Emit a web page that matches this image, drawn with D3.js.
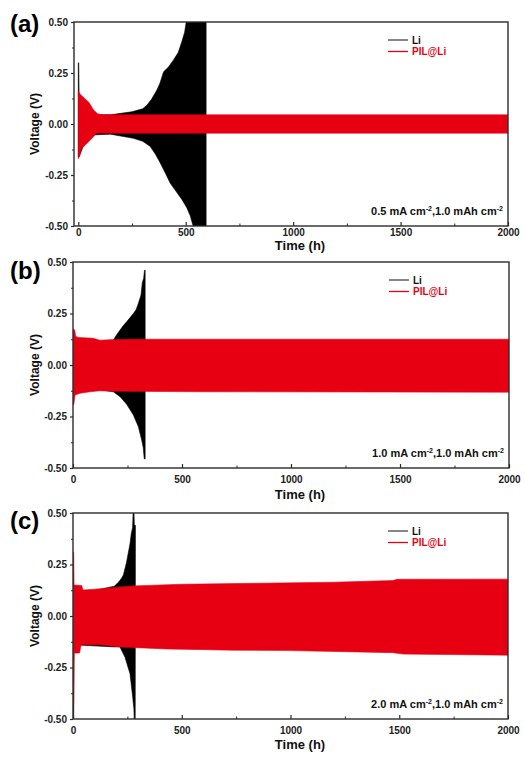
<!DOCTYPE html>
<html><head><meta charset="utf-8">
<script src="https://cdn.jsdelivr.net/npm/d3@7"></script>
<style>
body{margin:0;background:#fff}
text{font-family:"Liberation Sans",Arial,Helvetica,sans-serif;font-weight:bold}
</style>
</head><body>
<svg id="chart" width="525" height="758"></svg>
<script>
// ---------------- data ----------------
const panelLabels = ["(a)", "(b)", "(c)"];
const seriesNames = ["Li", "PIL@Li"];
const currentDensities = ["0.5", "1.0", "2.0"];   // mA cm-2
const arealCapacity = "1.0";                        // mAh cm-2
const yTicks = [-0.5, -0.25, 0, 0.25, 0.5];
const yTickLabels = ["-0.50", "-0.25", "0.00", "0.25", "0.50"];
const yMinorTicks = [-0.375, -0.125, 0.125, 0.375];
const xTicks = [0, 500, 1000, 1500, 2000];
const xMinorTicks = [250, 750, 1250, 1750];
const xDomains = [[-20, 2000], [0, 2000], [0, 2000]];

// voltage envelopes: [time (h), voltage (V)]
const liUpperA = [[0,0.30],[2,0.30],[4,0.13],[30,0.08],[80,0.045],[150,0.045],[250,0.06],[300,0.075],[320,0.093],[340,0.12],[366,0.167],[380,0.20],[397,0.256],[420,0.28],[443,0.314],[465,0.35],[482,0.404],[495,0.45],[505,0.52],[595,0.52]];
const liLowerA = [[0,-0.16],[4,-0.16],[30,-0.09],[56,-0.054],[150,-0.05],[256,-0.07],[300,-0.085],[335,-0.11],[360,-0.15],[381,-0.19],[405,-0.24],[428,-0.29],[455,-0.33],[482,-0.37],[505,-0.41],[521,-0.45],[540,-0.52],[595,-0.52]];
const pilUpperA = [[0,0.16],[10,0.145],[30,0.125],[50,0.105],[70,0.07],[90,0.05],[110,0.045],[2000,0.045]];
const pilLowerA = [[0,-0.17],[5,-0.16],[15,-0.12],[35,-0.10],[55,-0.08],[85,-0.045],[2000,-0.045]];

const liUpperB = [[0,0.10],[183,0.118],[200,0.146],[216,0.17],[230,0.19],[246,0.21],[262,0.23],[277,0.25],[290,0.27],[300,0.30],[312,0.34],[318,0.40],[324,0.42],[328,0.46],[331,0.46]];
const liLowerB = [[0,-0.10],[185,-0.13],[216,-0.154],[246,-0.19],[277,-0.243],[300,-0.30],[315,-0.364],[322,-0.40],[327,-0.456],[331,-0.456]];
const pilUpperB = [[0,0.175],[8,0.17],[12,0.14],[23,0.134],[92,0.13],[124,0.12],[170,0.123],[300,0.125],[2000,0.125]];
const pilLowerB = [[0,-0.194],[4,-0.19],[9,-0.146],[32,-0.137],[78,-0.13],[124,-0.125],[170,-0.127],[600,-0.13],[2000,-0.132]];

const liUpperC = [[0,0.10],[190,0.145],[210,0.165],[224,0.185],[232,0.20],[239,0.23],[246,0.26],[253,0.30],[262,0.35],[268,0.40],[274,0.43],[277,0.52],[280,0.52],[282,0.44],[287,0.44]];
const liLowerC = [[0,-0.52],[3,-0.52],[5,-0.14],[190,-0.15],[216,-0.15],[239,-0.20],[262,-0.28],[274,-0.39],[280,-0.45],[282,-0.52],[286,-0.52]];
const pilUpperC = [[0,0.31],[3,0.31],[5,0.15],[40,0.148],[46,0.126],[100,0.13],[276,0.146],[500,0.154],[860,0.159],[1200,0.164],[1471,0.172],[1490,0.178],[2000,0.179]];
const pilLowerC = [[0,-0.43],[3,-0.43],[5,-0.18],[30,-0.18],[37,-0.14],[124,-0.14],[216,-0.15],[430,-0.16],[736,-0.166],[1000,-0.168],[1200,-0.172],[1470,-0.178],[1520,-0.185],[2000,-0.19]];

const envelopes = [
  {li:[liUpperA, liLowerA], pil:[pilUpperA, pilLowerA]},
  {li:[liUpperB, liLowerB], pil:[pilUpperB, pilLowerB]},
  {li:[liUpperC, liLowerC], pil:[pilUpperC, pilLowerC]}
];

// ---------------- layout ----------------
const boxes = [
  {l:74, t:22, r:508, b:226, lab:32, xl:10, xt:24},
  {l:73, t:262, r:509, b:468, lab:279, xl:15, xt:31},
  {l:73, t:513, r:508, b:719, lab:529, xl:15, xt:30}
];
const RED = "#e60012", BLACK = "#000", AXIS = "#2b2b2b";

const svg = d3.select("#chart");

boxes.forEach((bx, i) => {
  const x = d3.scaleLinear().domain(xDomains[i]).range([bx.l, bx.r]);
  const y = d3.scaleLinear().domain([-0.5, 0.5]).range([bx.b, bx.t]);
  const g = svg.append("g");

  const clipId = "clip" + i;
  svg.append("clipPath").attr("id", clipId).append("rect")
    .attr("x", bx.l).attr("y", bx.t).attr("width", bx.r - bx.l).attr("height", bx.b - bx.t);

  const line = d3.line().x(d => x(d[0])).y(d => y(d[1]));
  const band = (up, lo) => line(up.concat(lo.slice().reverse())) + "Z";

  const plot = g.append("g").attr("clip-path", `url(#${clipId})`);
  plot.append("path").attr("d", band(envelopes[i].li[0], envelopes[i].li[1]))
    .attr("fill", BLACK).attr("stroke", BLACK).attr("stroke-width", 0.6);
  plot.append("path").attr("d", band(envelopes[i].pil[0], envelopes[i].pil[1]))
    .attr("fill", RED).attr("stroke", RED).attr("stroke-width", 0.6);

  // left axis (ticks outward)
  const yAxis = d3.axisLeft(y).tickValues(yTicks).tickSize(3).tickPadding(3)
    .tickFormat((d, k) => yTickLabels[k]);
  const ya = g.append("g").attr("transform", `translate(${bx.l},0)`).call(yAxis);
  ya.select(".domain").remove();
  ya.selectAll("line").attr("stroke", AXIS).attr("stroke-width", 1.2);
  ya.selectAll("text").attr("font-size", 10).attr("fill", "#222")
    .style("font-family", '"Liberation Sans",Arial,sans-serif').style("font-weight", "bold");
  const yMin = d3.axisLeft(y).tickValues(yMinorTicks).tickSize(2).tickFormat("");
  const ym = g.append("g").attr("transform", `translate(${bx.l},0)`).call(yMin);
  ym.select(".domain").remove();
  ym.selectAll("line").attr("stroke", AXIS).attr("stroke-width", 1);

  // bottom axis (ticks inward)
  const xAxis = d3.axisBottom(x).tickValues(xTicks).tickSize(-4).tickPadding(0).tickFormat(d3.format("d"));
  const xa = g.append("g").attr("transform", `translate(0,${bx.b})`).call(xAxis);
  xa.select(".domain").remove();
  xa.selectAll("line").attr("stroke", AXIS).attr("stroke-width", 1.2);
  xa.selectAll("text").attr("font-size", 10).attr("fill", "#222").attr("dy", null)
    .attr("y", bx.xl).style("dominant-baseline", "auto")
    .style("font-family", '"Liberation Sans",Arial,sans-serif').style("font-weight", "bold");
  const xMin = d3.axisBottom(x).tickValues(xMinorTicks).tickSize(-2.5).tickFormat("");
  const xm = g.append("g").attr("transform", `translate(0,${bx.b})`).call(xMin);
  xm.select(".domain").remove();
  xm.selectAll("line").attr("stroke", AXIS).attr("stroke-width", 1);

  // frame
  g.append("rect").attr("x", bx.l).attr("y", bx.t).attr("width", bx.r - bx.l).attr("height", bx.b - bx.t)
    .attr("fill", "none").attr("stroke", AXIS).attr("stroke-width", 1.4);

  // axis titles
  g.append("text").attr("x", 300).attr("y", bx.b + bx.xt).attr("text-anchor", "middle")
    .attr("font-size", 13).attr("fill", "#111").text("Time (h)");
  g.append("text").attr("transform", `translate(39,${(bx.t + bx.b) / 2}) rotate(-90)`)
    .attr("text-anchor", "middle").attr("font-size", 12).attr("fill", "#111").text("Voltage (V)");

  // panel label
  g.append("text").attr("x", 10).attr("y", bx.lab).attr("font-size", 24).attr("fill", "#000").text(panelLabels[i]);

  // legend
  const lx = bx.r - 120;
  [[seriesNames[0], BLACK, "#111"], [seriesNames[1], RED, RED]].forEach((s, k) => {
    const ly = bx.t + 18 + k * 11.5;
    g.append("line").attr("x1", lx).attr("x2", lx + 20).attr("y1", ly).attr("y2", ly)
      .attr("stroke", s[1] === BLACK ? "#444" : RED).attr("stroke-width", 1.3);
    g.append("text").attr("x", lx + 24).attr("y", ly + 3.5).attr("font-size", 10).attr("fill", s[2]).text(s[0]);
  });

  // condition annotation
  const ann = g.append("text").attr("x", bx.r - 5).attr("y", bx.b - 11).attr("text-anchor", "end")
    .attr("font-size", 11).attr("fill", "#111");
  ann.append("tspan").text(currentDensities[i] + " mA cm");
  ann.append("tspan").attr("font-size", 7).attr("dy", -4).text("-2");
  ann.append("tspan").attr("dy", 4).text("," + arealCapacity + " mAh cm");
  ann.append("tspan").attr("font-size", 7).attr("dy", -4).text("-2");
});
</script>
</body></html>
